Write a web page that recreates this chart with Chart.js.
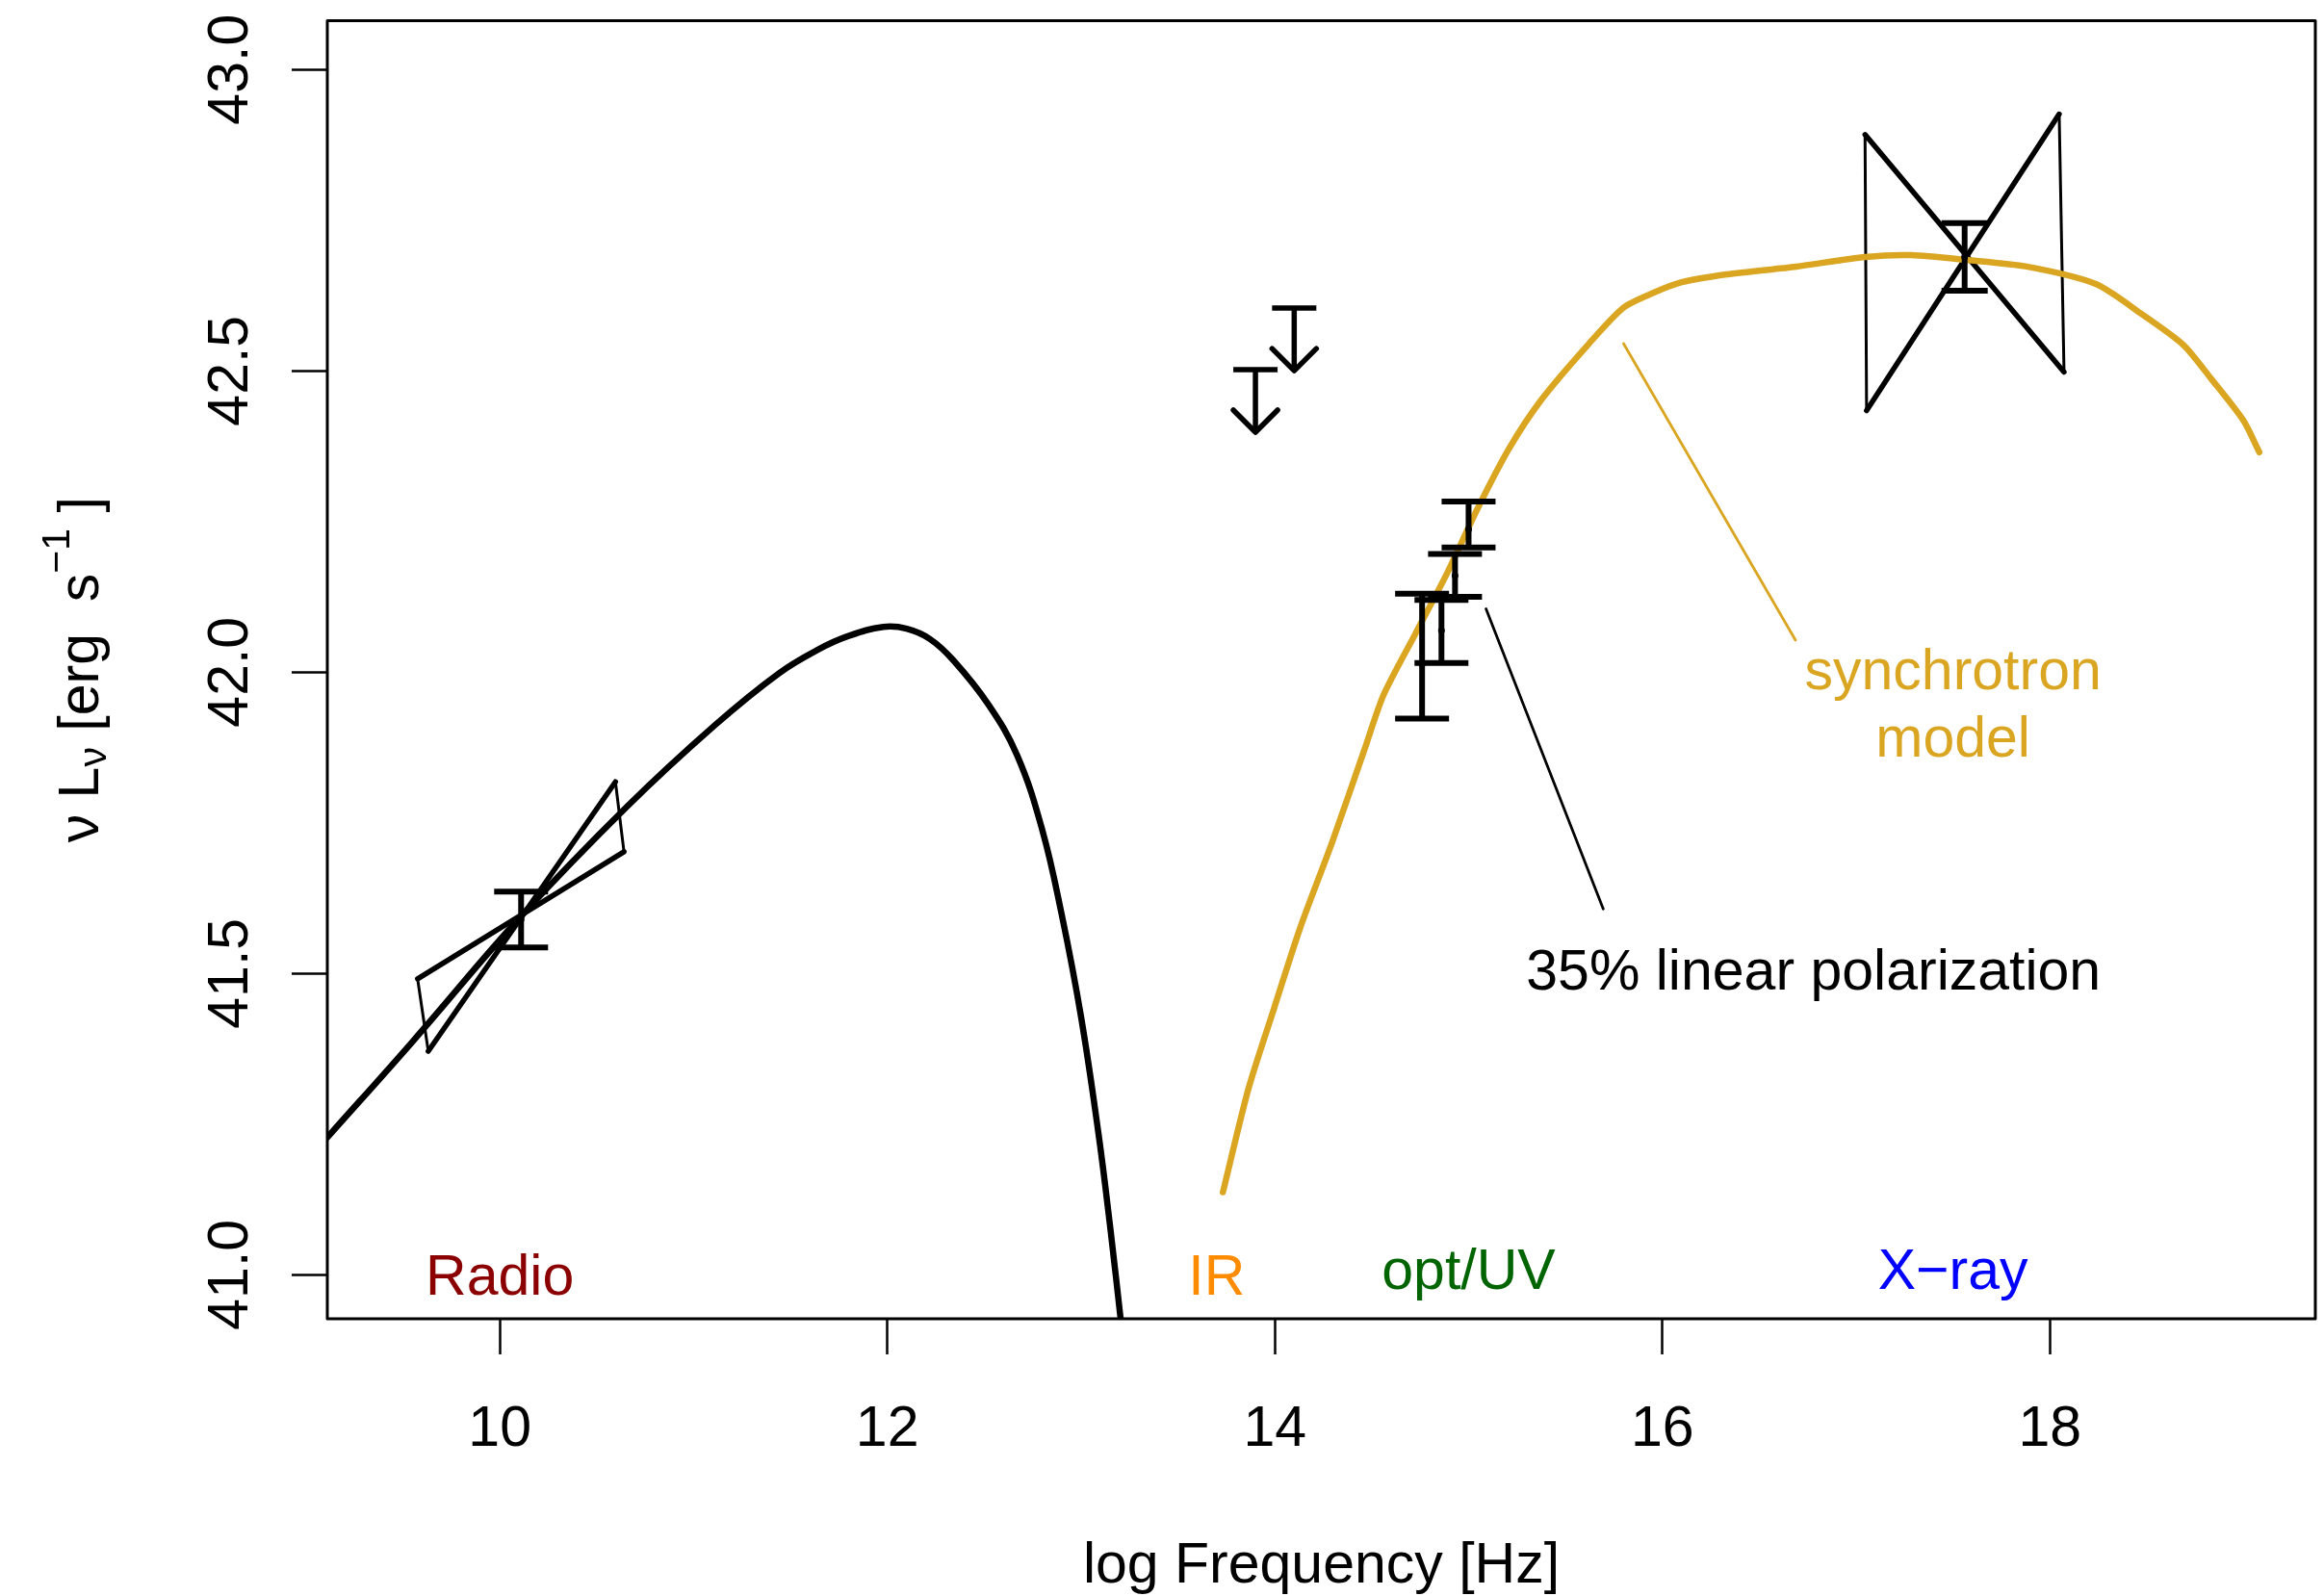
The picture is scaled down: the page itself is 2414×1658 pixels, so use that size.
<!DOCTYPE html>
<html>
<head>
<meta charset="utf-8">
<title>SED</title>
<script src="https://cdn.jsdelivr.net/npm/chart.js@4.4.1/dist/chart.umd.min.js"></script>
<style>
  html, body { margin: 0; padding: 0; background: #fff; }
  canvas { display: block; }
</style>
</head>
<body>
<canvas id="sed" width="2414" height="1658"></canvas>
<script>
// axis ranges and ticks
var xMin = 9.11, xMax = 19.37;
var yMin = 40.927, yMax = 43.081;
var xTicks = [10, 12, 14, 16, 18];
var yTicks = [41.0, 41.5, 42.0, 42.5, 43.0];

// low-frequency component (black curve)
var lowNu = [9.11, 9.55, 10.11, 10.66, 11.11, 11.44, 11.64, 11.80, 11.98, 12.10, 12.22, 12.34, 12.52, 12.67, 12.80, 12.90, 13.00, 13.09, 13.15, 13.21];
var lowL  = [41.228, 41.387, 41.595, 41.778, 41.912, 41.998, 42.037, 42.060, 42.075, 42.072, 42.055, 42.020, 41.947, 41.862, 41.738, 41.598, 41.428, 41.234, 41.080, 40.910];

// synchrotron model
var syncNu = [13.732, 13.865, 13.997, 14.130, 14.296, 14.461, 14.561, 14.726, 14.892, 15.041, 15.207, 15.373, 15.621, 15.80, 15.95, 16.10, 16.334, 16.691, 17.048, 17.286, 17.571, 17.880, 18.237, 18.475, 18.689, 18.832, 18.998, 19.081];
var syncL  = [41.137, 41.310, 41.443, 41.575, 41.718, 41.870, 41.962, 42.064, 42.166, 42.268, 42.370, 42.451, 42.545, 42.605, 42.629, 42.647, 42.660, 42.673, 42.689, 42.692, 42.684, 42.673, 42.644, 42.594, 42.543, 42.487, 42.418, 42.365];

// bow ties, corners: left-top, left-bottom, right-top, right-bottom
var radioBowNu = [9.576, 9.631, 10.597, 10.641];
var radioBowL  = [41.491, 41.371, 41.818, 41.702];
var xrayBowNu  = [17.046, 17.054, 18.048, 18.073];
var xrayBowL   = [42.892, 42.434, 42.926, 42.498];

// detections with error bars
var detNu = [10.11, 14.76, 14.86, 14.93, 15.00, 17.56];
var detL  = [41.59, 42.013, 42.069, 42.16, 42.237, 42.689];
var detLo = [41.543, 41.923, 42.015, 42.125, 42.207, 42.633];
var detHi = [41.636, 42.130, 42.120, 42.196, 42.283, 42.745];

// upper limits
var limNu = [13.90, 14.10];
var limL  = [42.502, 42.604];

// band labels
var bandNames  = ['Radio', 'IR', 'opt/UV', 'X\u2212ray'];
var bandNu     = [10.0, 13.7, 15.0, 17.5];
var bandL      = [41.0, 41.0, 41.01, 41.01];
var bandColors = ['#8b0000', '#ff8c00', '#006400', '#0000ff'];

// annotations
var syncLabel = ['synchrotron', 'model'];
var syncLabelNu = 17.5, syncLabelL = [42.005, 41.894];
var syncPointer = { nu: [15.80, 16.687], L: [42.545, 42.053] };
var polLabel = '35% linear polarization';
var polLabelNu = 16.78, polLabelL = 41.507;
var polPointer = { nu: [15.09, 15.695], L: [42.105, 41.607] };

var GOLD = '#daa520';
var FONT = '"Liberation Sans", Arial, Helvetica, sans-serif';
var FS = 59;
var CAP = FS * 0.716;

function pts(xs, ys) {
    return xs.map(function (x, i) { return { x: x, y: ys[i] }; });
}

function lineSet(data, color, width, extra) {
    var ds = {
        data: data,
        showLine: true,
        borderColor: color,
        borderWidth: width,
        pointRadius: 0,
        borderCapStyle: 'round',
        borderJoinStyle: 'round',
        tension: 0
    };
    for (var k in extra) ds[k] = extra[k];
    return ds;
}

// bow tie edges: two diagonals (thick) and two sides (thin)
function bowSets(nu, L) {
    var c = pts(nu, L);
    return [
        lineSet([c[0], c[3]], '#000', 5.5),
        lineSet([c[1], c[2]], '#000', 5.5),
        lineSet([c[0], c[1]], '#000', 3),
        lineSet([c[2], c[3]], '#000', 3)
    ];
}

function seg(ctx, x1, y1, x2, y2) {
    ctx.beginPath();
    ctx.moveTo(x1, y1);
    ctx.lineTo(x2, y2);
    ctx.stroke();
}

var datasets = [
    lineSet(pts(lowNu, lowL), '#000', 6.5, { tension: 0.4 }),
    lineSet(pts(syncNu, syncL), GOLD, 6.5, { tension: 0.25 }),
    lineSet(pts(syncPointer.nu, syncPointer.L), GOLD, 2.8),
    lineSet(pts(polPointer.nu, polPointer.L), '#000', 2.8)
].concat(bowSets(radioBowNu, radioBowL), bowSets(xrayBowNu, xrayBowL));

var sedDecor = {
    id: 'sedDecor',
    afterDatasetsDraw: function (chart) {
        var ctx = chart.ctx, xs = chart.scales.x, ys = chart.scales.y, a = chart.chartArea;
        ctx.save();
        ctx.strokeStyle = '#000';
        ctx.fillStyle = '#000';

        // error bars
        ctx.lineWidth = 6;
        ctx.lineCap = 'butt';
        detNu.forEach(function (nu, i) {
            var x = xs.getPixelForValue(nu);
            var lo = ys.getPixelForValue(detLo[i]);
            var hi = ys.getPixelForValue(detHi[i]);
            var w = i === detNu.length - 1 ? 24 : 28;
            seg(ctx, x, lo, x, hi);
            seg(ctx, x - w, lo, x + w, lo);
            seg(ctx, x - w, hi, x + w, hi);
            ctx.beginPath();
            ctx.arc(x, ys.getPixelForValue(detL[i]), 3.5, 0, Math.PI * 2);
            ctx.fill();
        });

        // upper limits: bar plus downward arrow
        ctx.lineWidth = 5.5;
        limNu.forEach(function (nu, i) {
            var x = xs.getPixelForValue(nu), y = ys.getPixelForValue(limL[i]);
            var tip = y + 65;
            ctx.lineCap = 'butt';
            seg(ctx, x - 23, y, x + 23, y);
            seg(ctx, x, y, x, tip);
            ctx.lineCap = 'round';
            ctx.lineJoin = 'round';
            ctx.beginPath();
            ctx.moveTo(x - 23, tip - 23);
            ctx.lineTo(x, tip);
            ctx.lineTo(x + 23, tip - 23);
            ctx.stroke();
        });

        // text inside the plot
        ctx.font = FS + 'px ' + FONT;
        ctx.textAlign = 'center';
        ctx.textBaseline = 'alphabetic';
        bandNames.forEach(function (name, i) {
            ctx.fillStyle = bandColors[i];
            ctx.fillText(name, xs.getPixelForValue(bandNu[i]), ys.getPixelForValue(bandL[i]) + CAP / 2);
        });
        ctx.fillStyle = GOLD;
        syncLabel.forEach(function (t, i) {
            ctx.fillText(t, xs.getPixelForValue(syncLabelNu), ys.getPixelForValue(syncLabelL[i]) + CAP / 2);
        });
        ctx.fillStyle = '#000';
        ctx.fillText(polLabel, xs.getPixelForValue(polLabelNu), ys.getPixelForValue(polLabelL) + CAP / 2);

        // frame
        ctx.lineWidth = 3;
        ctx.strokeRect(a.left, a.top, a.right - a.left, a.bottom - a.top);
        ctx.restore();
    },
    afterDraw: function (chart) {
        var ctx = chart.ctx, xs = chart.scales.x, ys = chart.scales.y, a = chart.chartArea;
        ctx.save();
        ctx.fillStyle = '#000';
        ctx.font = FS + 'px ' + FONT;
        ctx.textAlign = 'center';
        ctx.textBaseline = 'alphabetic';

        // x tick labels and title
        xTicks.forEach(function (v) {
            ctx.fillText(String(v), xs.getPixelForValue(v), a.bottom + 132);
        });
        ctx.fillText('log Frequency [Hz]', (a.left + a.right) / 2, a.bottom + 274);

        // y tick labels, rotated
        yTicks.forEach(function (v) {
            ctx.save();
            ctx.translate(a.left - 83, ys.getPixelForValue(v));
            ctx.rotate(-Math.PI / 2);
            ctx.fillText(v.toFixed(1), 0, 0);
            ctx.restore();
        });

        // y title: nu L_nu [erg s^-1 ]
        var small = Math.round(FS * 0.7);
        var parts = [
            { t: '\u03bd ', f: FS, dy: 0 },
            { t: 'L', f: FS, dy: 0 },
            { t: '\u03bd', f: small, dy: 8 },
            { t: ' [erg  s', f: FS, dy: 0 },
            { t: '\u22121', f: small, dy: -30 },
            { t: ' ]', f: FS, dy: 0 }
        ];
        var total = 0;
        parts.forEach(function (p) {
            ctx.font = p.f + 'px ' + FONT;
            p.w = ctx.measureText(p.t).width;
            total += p.w;
        });
        ctx.translate(102, (a.top + a.bottom) / 2);
        ctx.rotate(-Math.PI / 2);
        ctx.textAlign = 'left';
        var pos = -total / 2;
        parts.forEach(function (p) {
            ctx.font = p.f + 'px ' + FONT;
            ctx.fillText(p.t, pos, p.dy);
            pos += p.w;
        });
        ctx.restore();
    }
};

var tickGrid = {
    display: true,
    drawOnChartArea: false,
    drawTicks: true,
    tickLength: 37,
    tickWidth: 2.5,
    tickColor: '#000'
};

var ctx = document.getElementById('sed').getContext('2d');
window.sedChart = new Chart(ctx, {
    type: 'scatter',
    data: { datasets: datasets },
    options: {
        responsive: false,
        animation: false,
        devicePixelRatio: 1,
        layout: { padding: { top: 21.5, right: 9, left: 0, bottom: 0 } },
        plugins: {
            legend: { display: false },
            tooltip: { enabled: false }
        },
        scales: {
            x: {
                type: 'linear',
                min: xMin,
                max: xMax,
                afterBuildTicks: function (s) { s.ticks = xTicks.map(function (v) { return { value: v }; }); },
                afterFit: function (s) { s.height = 288; },
                ticks: { display: false },
                grid: tickGrid,
                border: { display: false }
            },
            y: {
                type: 'linear',
                min: yMin,
                max: yMax,
                afterBuildTicks: function (s) { s.ticks = yTicks.map(function (v) { return { value: v }; }); },
                afterFit: function (s) { s.width = 340; },
                ticks: { display: false },
                grid: tickGrid,
                border: { display: false }
            }
        }
    },
    plugins: [sedDecor]
});
</script>
</body>
</html>
